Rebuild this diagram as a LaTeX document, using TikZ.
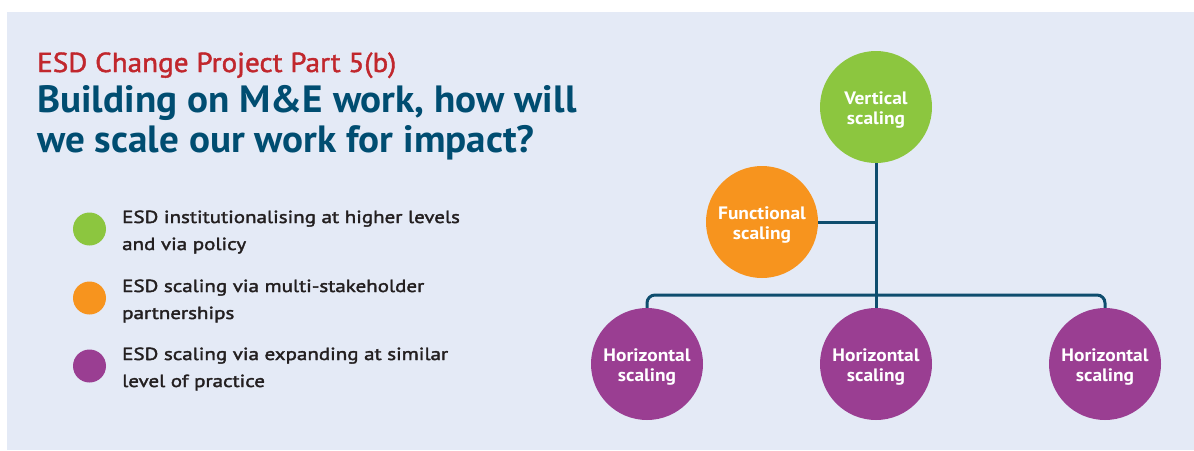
\documentclass[tikz,border=0pt]{standalone}
\usepackage{fontspec}
\setmainfont{PT Sans}
\newfontfamily\semifont[FakeBold=2,FakeStretch=1.2]{PT Sans}
\newfontfamily\redfont[FakeBold=1.5,FakeStretch=1.06]{PT Sans}
\newfontfamily\headfont[FakeStretch=1.03]{PT Sans}
\newfontfamily\bubfont[FakeStretch=1.08]{PT Sans}
\definecolor{panel}{HTML}{E4EAF6}
\definecolor{vgreen}{HTML}{8CC63F}
\definecolor{forange}{HTML}{F7941E}
\definecolor{hpurple}{HTML}{9A3E92}
\definecolor{tred}{HTML}{C1272D}
\definecolor{tblue}{HTML}{004D71}
\definecolor{lineblue}{HTML}{0E4D6E}
\definecolor{txt}{HTML}{231F20}
\tikzset{
  bubtext/.style={text=white, align=center, inner sep=0pt, yshift=-3pt,
    font=\bubfont\fontsize{18}{20}\selectfont\bfseries},
  bubble/.style={circle, minimum size=112pt, inner sep=0pt,
    label={[bubtext]center:#1}},
  dot/.style={circle, minimum size=33pt, inner sep=0pt},
  conn/.style={draw=lineblue, line width=3pt},
  legend/.style={anchor=base west, inner sep=0pt, align=left, text=txt,
    font=\semifont\fontsize{17.5}{27}\selectfont},
  titleline/.style={anchor=base west, inner sep=0pt}
}
\begin{document}
\begin{tikzpicture}[x=1pt,y=-1pt]
\useasboundingbox (0,0) rectangle (1194,450);
\fill[white] (0,0) rectangle (1194,450);
\fill[panel] (7,12) rectangle (1194,450);
% titles
\node[titleline, text=tred, font=\redfont\fontsize{27.5}{32}\selectfont] (t1) at (37,72) {ESD Change Project Part 5(b)};
\node[titleline, text=tblue, font=\headfont\fontsize{38}{40}\selectfont\bfseries] (t2) at (37,112.5) {Building on M\&E work, how will};
\node[titleline, text=tblue, font=\headfont\fontsize{38}{40}\selectfont\bfseries] (t3) at (37,152) {we scale our work for impact?};
% legend
\node[dot, fill=vgreen] (d1) at (89.5,229) {};
\node[dot, fill=forange] (d2) at (89.5,298) {};
\node[dot, fill=hpurple] (d3) at (89.5,366) {};
\node[legend] (l1) at (122,250) {ESD institutionalising at higher levels\\and via policy};
\node[legend] (l2) at (122,319) {ESD scaling via multi-stakeholder\\partnerships};
\node[legend] (l3) at (122,387) {ESD scaling via expanding at similar\\level of practice};
% diagram
\node[bubble={Vertical\\scaling}, fill=vgreen] (vert) at (876,107) {};
\node[bubble={Functional\\scaling}, fill=forange] (func) at (762,222) {};
\node[bubble={Horizontal\\scaling}, fill=hpurple] (h1) at (647,364) {};
\node[bubble={Horizontal\\scaling}, fill=hpurple] (h2) at (876,364) {};
\node[bubble={Horizontal\\scaling}, fill=hpurple] (h3) at (1105,364) {};
\coordinate (bar) at (876,295);
\draw[conn] (vert.south) -- (h2.north);
\draw[conn] (func.east) -- (func.east -| vert.south);
\draw[conn, rounded corners=8pt] (h1.north) |- (bar) -| (h3.north);
\end{tikzpicture}
\end{document}
